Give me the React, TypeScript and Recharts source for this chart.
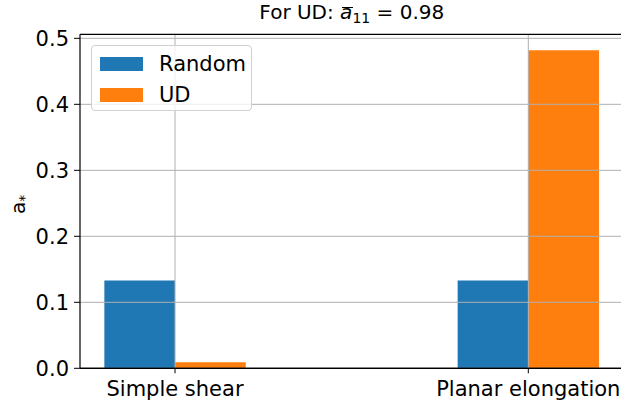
import React from 'react';
import { BarChart, Bar, XAxis, YAxis, ReferenceLine } from 'recharts';

// flow types and the two orientation states
const categories = ['Simple shear', 'Planar elongation'];
const randomValues = [0.133, 0.133];
const udValues = [0.009, 0.482];
const yTicks = [0, 0.1, 0.2, 0.3, 0.4, 0.5];
const seriesNames = ['Random', 'UD'];
const seriesColors = ['#1f77b4', '#ff7f0e'];

const Y_MAX = 0.5061;
const FONT = '"DejaVu Sans", sans-serif';
const GRID = '#b0b0b0';

const data = categories.map((name, i) => ({
  name,
  random: randomValues[i],
  ud: udValues[i],
}));

// mpl-style y label: upright a with a small subscript star
const YLabel = (props: any) => {
  const vb = props.viewBox || {};
  const cx = 25;
  const cy = (vb.y ?? 34) + (vb.height ?? 334) / 2 + 3;
  return (
    <text
      x={cx}
      y={cy}
      transform={`rotate(-90, ${cx}, ${cy})`}
      textAnchor="middle"
      fontSize={20}
      fill="#000"
      style={{ fontFamily: FONT }}
    >
      a
      <tspan fontSize={14} dy={4}>
        *
      </tspan>
    </text>
  );
};

function LegendBox() {
  return (
    <div
      style={{
        position: 'absolute',
        left: 91,
        top: 45,
        width: 161,
        height: 66,
        boxSizing: 'border-box',
        background: 'rgba(255,255,255,0.8)',
        border: '1px solid #d0d0d0',
        borderRadius: 4,
        fontSize: 21,
        fontFamily: FONT,
      }}
    >
      {seriesNames.map((name, i) => (
        <div
          key={name}
          style={{
            position: 'absolute',
            left: 8,
            top: 11 + i * 30.6,
            height: 14,
            display: 'flex',
            alignItems: 'center',
          }}
        >
          <div style={{ width: 43, height: 14, background: seriesColors[i] }} />
          <span style={{ marginLeft: 16, lineHeight: '14px', color: '#000' }}>
            {name}
          </span>
        </div>
      ))}
    </div>
  );
}

export default function App() {
  return (
    <div
      style={{
        position: 'fixed',
        left: 0,
        top: 0,
        width: 621,
        height: 406,
        overflow: 'hidden',
        background: '#fff',
        fontFamily: FONT,
      }}
    >
      <div
        style={{
          position: 'absolute',
          left: 0,
          top: 1.5,
          width: 703.6,
          textAlign: 'center',
          fontSize: 20,
          lineHeight: '20px',
          color: '#000',
          whiteSpace: 'nowrap',
        }}
      >
        For UD:{' '}
        <span style={{ position: 'relative', fontStyle: 'italic' }}>
          a
          <span
            style={{
              position: 'absolute',
              left: 2,
              right: -1,
              top: 7.5,
              borderTop: '1.3px solid #000',
            }}
          />
        </span>
        <span style={{ fontSize: 14, position: 'relative', top: 4 }}>11</span>
        {' = 0.98'}
      </div>

      <BarChart
        width={640}
        height={406}
        data={data}
        margin={{ top: 34.3, right: 16.4, bottom: 0, left: 0 }}
        barGap={0}
        barSize={70.7}
      >
        <XAxis
          dataKey="name"
          height={37.7}
          padding={{ left: -81.65, right: -81.35 }}
          tick={{ fontSize: 21, fill: '#000' }}
          tickSize={5}
          tickMargin={8}
          tickLine={{ stroke: '#000', strokeWidth: 1 }}
          axisLine={{ stroke: '#000', strokeWidth: 1.2 }}
          interval={0}
        />
        <YAxis
          width={80}
          domain={[0, Y_MAX]}
          ticks={yTicks}
          tickFormatter={(v: number) => v.toFixed(1)}
          tick={{ fontSize: 21, fill: '#000' }}
          tickSize={6}
          tickMargin={5}
          tickLine={{ stroke: '#000', strokeWidth: 1 }}
          axisLine={{ stroke: '#000', strokeWidth: 1.2 }}
          label={{ content: YLabel }}
        />
        <Bar dataKey="random" fill={seriesColors[0]} isAnimationActive={false} />
        <Bar dataKey="ud" fill={seriesColors[1]} isAnimationActive={false} />
        {/* grid drawn on top of the bars, as matplotlib does here */}
        {yTicks.map((t) => (
          <ReferenceLine key={`h${t}`} y={t} stroke={GRID} strokeWidth={1} />
        ))}
        {categories.map((c) => (
          <ReferenceLine key={`v${c}`} x={c} stroke={GRID} strokeWidth={1} />
        ))}
        <ReferenceLine y={0} stroke="#000" strokeWidth={1.2} />
        <ReferenceLine y={Y_MAX} stroke="#000" strokeWidth={1.2} />
      </BarChart>

      <LegendBox />
    </div>
  );
}
